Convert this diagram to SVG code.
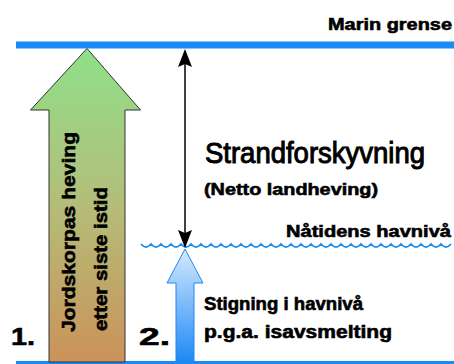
<svg xmlns="http://www.w3.org/2000/svg" width="454" height="364" viewBox="0 0 454 364">
  <style>
    .lbl { font-family: "Liberation Sans", Arial, sans-serif; font-weight: bold; fill: #000; stroke: #000; stroke-width: 0.6; }
    .big { font-family: "Liberation Sans", Arial, sans-serif; font-weight: normal; fill: #000; stroke: #000; stroke-width: 1; }
    .level { fill: #1a8af5; }
    .wave { fill: none; stroke: #1a8af5; stroke-width: 1.8; }
    .conn { stroke: #000; stroke-width: 1.5; fill: none; }
  </style>
  <defs>
    <linearGradient id="gGreen" x1="0" y1="0" x2="0" y2="1">
      <stop offset="0" stop-color="#8fe08a"/>
      <stop offset="0.5" stop-color="#b4bd78"/>
      <stop offset="1" stop-color="#cb925a"/>
    </linearGradient>
    <linearGradient id="gBlue" x1="0" y1="0" x2="0" y2="1">
      <stop offset="0" stop-color="#d6eaff"/>
      <stop offset="1" stop-color="#1e88f5"/>
    </linearGradient>
    <marker id="ah" viewBox="0 0 18 14" refX="16" refY="7" markerWidth="18" markerHeight="14" markerUnits="userSpaceOnUse" orient="auto-start-reverse">
      <path d="M0,0 L18,7 L0,14 L3,7 z" fill="#000"/>
    </marker>
  </defs>

  <g id="marin-grense">
    <rect class="level" x="16" y="41.5" width="438" height="7"/>
    <text class="lbl" x="328" y="30" font-size="17" textLength="124" lengthAdjust="spacingAndGlyphs">Marin grense</text>
  </g>

  <g id="bunn">
    <rect class="level" x="16" y="361" width="438" height="4"/>
  </g>

  <g id="havniva">
    <path class="wave" d="M141,244 q5,6 10,0 5,6 10,0 5,6 10,0 5,6 10,0 5,6 10,0 5,6 10,0 5,6 10,0 5,6 10,0 5,6 10,0 5,6 10,0 5,6 10,0 5,6 10,0 5,6 10,0 5,6 10,0 5,6 10,0 5,6 10,0 5,6 10,0 5,6 10,0 5,6 10,0 5,6 10,0 5,6 10,0 5,6 10,0 5,6 10,0 5,6 10,0 5,6 10,0 5,6 10,0 5,6 10,0 5,6 10,0 5,6 10,0 5,6 10,0 5,6 10,0"/>
    <text class="lbl" x="286" y="237" font-size="17" textLength="165" lengthAdjust="spacingAndGlyphs">Nåtidens havnivå</text>
  </g>

  <g id="jordskorpe">
    <path d="M87,48.5 L140.5,110 L125,110 L125,362 L49,362 L49,110 L30.5,110 Z" fill="url(#gGreen)" stroke="#333" stroke-width="1"/>
    <text class="lbl" transform="translate(75,332) rotate(-90)" font-size="19" textLength="200" lengthAdjust="spacingAndGlyphs">Jordskorpas heving</text>
    <text class="lbl" transform="translate(107,331) rotate(-90)" font-size="19" textLength="144" lengthAdjust="spacingAndGlyphs">etter siste istid</text>
    <text class="lbl" x="11" y="345" font-size="24" textLength="24" lengthAdjust="spacingAndGlyphs">1.</text>
  </g>

  <g id="havstigning">
    <path d="M185,249 L203,283 L194,283 L194,362 L176,362 L176,283 L167,283 Z" fill="url(#gBlue)" stroke="#1e88f0" stroke-width="1"/>
    <text class="lbl" x="139" y="345" font-size="24" textLength="31" lengthAdjust="spacingAndGlyphs">2.</text>
    <text class="lbl" x="204" y="310" font-size="18" textLength="159" lengthAdjust="spacingAndGlyphs">Stigning i havnivå</text>
    <text class="lbl" x="204" y="338" font-size="18" textLength="188" lengthAdjust="spacingAndGlyphs">p.g.a. isavsmelting</text>
  </g>

  <g id="strandforskyvning">
    <text class="big" x="205" y="163" font-size="29" textLength="220" lengthAdjust="spacingAndGlyphs">Strandforskyvning</text>
    <text class="lbl" x="204" y="195" font-size="17" textLength="174" lengthAdjust="spacingAndGlyphs">(Netto landheving)</text>
  </g>

  <g id="connectors">
    <line class="conn" x1="185" y1="51" x2="185" y2="246" marker-start="url(#ah)" marker-end="url(#ah)"/>
  </g>
</svg>
